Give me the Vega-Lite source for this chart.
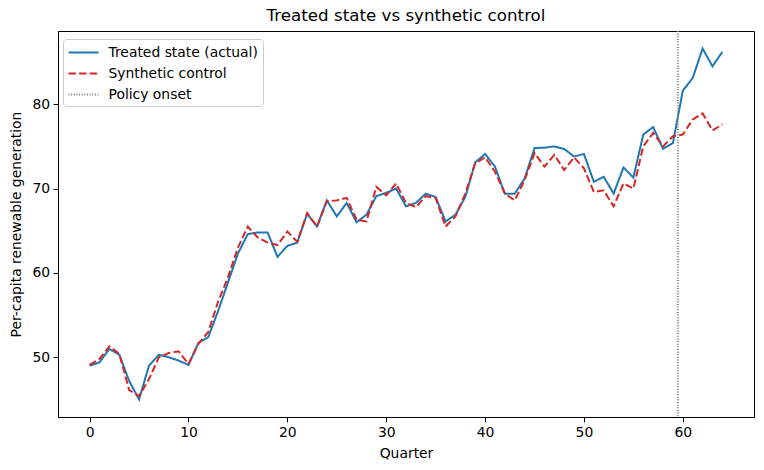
{
  "$schema": "https://vega.github.io/schema/vega-lite/v6.json",
  "width": 696,
  "height": 386,
  "autosize": {"type": "none"},
  "padding": {"left": 58, "top": 31, "right": 10, "bottom": 53},
  "background": "white",
  "title": {"text": "Treated state vs synthetic control", "font": "DejaVu Sans", "fontSize": 16.7, "fontWeight": "normal", "color": "black", "offset": 5},
  "config": {
    "view": {"stroke": "black", "strokeWidth": 1},
    "axis": {"labelFont": "DejaVu Sans", "titleFont": "DejaVu Sans", "labelFontSize": 13.9, "titleFontSize": 13.9, "titleFontWeight": "normal", "labelColor": "black", "titleColor": "black", "domainColor": "black", "tickColor": "black", "tickSize": 4.9, "labelPadding": 3.5, "grid": false},
    "legend": {"labelFont": "DejaVu Sans", "labelFontSize": 13.9, "labelColor": "black", "title": null, "orient": "none", "legendX": 5, "legendY": 8, "symbolType": "M-1,0H2.75", "symbolSize": 256, "symbolStrokeWidth": 2, "labelOffset": 23, "rowPadding": 5, "padding": 4.5, "fillColor": "white", "strokeColor": "#cccccc", "cornerRadius": 3}
  },
  "datasets": {
    "series": [
      {"q": 0, "treated": 49.0, "synthetic": 49.1},
      {"q": 1, "treated": 49.4, "synthetic": 49.8},
      {"q": 2, "treated": 51.0, "synthetic": 51.3},
      {"q": 3, "treated": 50.3, "synthetic": 50.4},
      {"q": 4, "treated": 47.2, "synthetic": 46.1},
      {"q": 5, "treated": 45.0, "synthetic": 45.4},
      {"q": 6, "treated": 49.0, "synthetic": 47.4},
      {"q": 7, "treated": 50.3, "synthetic": 50.0},
      {"q": 8, "treated": 50.0, "synthetic": 50.5},
      {"q": 9, "treated": 49.6, "synthetic": 50.7},
      {"q": 10, "treated": 49.1, "synthetic": 49.2},
      {"q": 11, "treated": 51.7, "synthetic": 51.6},
      {"q": 12, "treated": 52.4, "synthetic": 53.0},
      {"q": 13, "treated": 55.5, "synthetic": 56.6},
      {"q": 14, "treated": 58.9, "synthetic": 59.5},
      {"q": 15, "treated": 62.3, "synthetic": 63.0},
      {"q": 16, "treated": 64.6, "synthetic": 65.5},
      {"q": 17, "treated": 64.8, "synthetic": 64.2},
      {"q": 18, "treated": 64.8, "synthetic": 63.6},
      {"q": 19, "treated": 61.9, "synthetic": 63.3},
      {"q": 20, "treated": 63.2, "synthetic": 64.9},
      {"q": 21, "treated": 63.6, "synthetic": 63.7},
      {"q": 22, "treated": 67.0, "synthetic": 67.1},
      {"q": 23, "treated": 65.5, "synthetic": 65.5},
      {"q": 24, "treated": 68.6, "synthetic": 68.5},
      {"q": 25, "treated": 66.7, "synthetic": 68.6},
      {"q": 26, "treated": 68.3, "synthetic": 68.9},
      {"q": 27, "treated": 66.0, "synthetic": 66.3},
      {"q": 28, "treated": 66.9, "synthetic": 66.1},
      {"q": 29, "treated": 69.1, "synthetic": 70.2},
      {"q": 30, "treated": 69.5, "synthetic": 69.2},
      {"q": 31, "treated": 70.0, "synthetic": 70.6},
      {"q": 32, "treated": 67.9, "synthetic": 68.3},
      {"q": 33, "treated": 68.3, "synthetic": 67.8},
      {"q": 34, "treated": 69.4, "synthetic": 69.1},
      {"q": 35, "treated": 69.0, "synthetic": 68.9},
      {"q": 36, "treated": 66.1, "synthetic": 65.5},
      {"q": 37, "treated": 66.9, "synthetic": 66.7},
      {"q": 38, "treated": 69.0, "synthetic": 69.4},
      {"q": 39, "treated": 73.1, "synthetic": 73.0},
      {"q": 40, "treated": 74.1, "synthetic": 73.7},
      {"q": 41, "treated": 72.6, "synthetic": 72.0},
      {"q": 42, "treated": 69.4, "synthetic": 69.4},
      {"q": 43, "treated": 69.4, "synthetic": 68.6},
      {"q": 44, "treated": 71.2, "synthetic": 71.0},
      {"q": 45, "treated": 74.8, "synthetic": 74.2},
      {"q": 46, "treated": 74.85, "synthetic": 72.6},
      {"q": 47, "treated": 75.0, "synthetic": 74.0},
      {"q": 48, "treated": 74.7, "synthetic": 72.2},
      {"q": 49, "treated": 73.8, "synthetic": 73.7},
      {"q": 50, "treated": 74.1, "synthetic": 72.4},
      {"q": 51, "treated": 70.8, "synthetic": 69.6},
      {"q": 52, "treated": 71.4, "synthetic": 69.8},
      {"q": 53, "treated": 69.4, "synthetic": 67.9},
      {"q": 54, "treated": 72.5, "synthetic": 70.6},
      {"q": 55, "treated": 71.3, "synthetic": 70.0},
      {"q": 56, "treated": 76.4, "synthetic": 75.0},
      {"q": 57, "treated": 77.3, "synthetic": 76.6},
      {"q": 58, "treated": 74.7, "synthetic": 75.0},
      {"q": 59, "treated": 75.4, "synthetic": 76.2},
      {"q": 60, "treated": 81.6, "synthetic": 76.4},
      {"q": 61, "treated": 83.1, "synthetic": 78.2},
      {"q": 62, "treated": 86.6, "synthetic": 78.9},
      {"q": 63, "treated": 84.5, "synthetic": 76.9},
      {"q": 64, "treated": 86.2, "synthetic": 77.6}
    ],
    "onset": [{"q": 59.5, "series": "Policy onset"}]
  },
  "layer": [
    {
      "data": {"name": "series"},
      "transform": [
        {"fold": ["treated", "synthetic"], "as": ["key", "value"]},
        {"lookup": "key", "from": {"data": {"values": [{"key": "treated", "series": "Treated state (actual)"}, {"key": "synthetic", "series": "Synthetic control"}]}, "key": "key", "fields": ["series"]}}
      ],
      "mark": {"type": "line", "strokeCap": "butt", "clip": true},
      "encoding": {
        "x": {"field": "q", "type": "quantitative", "scale": {"domain": [-3.2, 67.2], "nice": false, "zero": false}, "axis": {"values": [0, 10, 20, 30, 40, 50, 60], "title": "Quarter", "titlePadding": 7}},
        "y": {"field": "value", "type": "quantitative", "scale": {"domain": [42.92, 88.68], "nice": false, "zero": false}, "axis": {"values": [50, 60, 70, 80], "title": "Per-capita renewable generation", "titlePadding": 8}},
        "color": {"field": "series", "type": "nominal", "scale": {"domain": ["Treated state (actual)", "Synthetic control", "Policy onset"], "range": ["#1f77b4", "#d62728", "#808080"]}},
        "strokeDash": {"field": "series", "type": "nominal", "scale": {"domain": ["Treated state (actual)", "Synthetic control", "Policy onset"], "range": [[1, 0], [7.4, 3.2], [1, 1.65]]}},
        "strokeWidth": {"field": "series", "type": "nominal", "scale": {"domain": ["Treated state (actual)", "Synthetic control", "Policy onset"], "range": [2, 2, 1]}}
      }
    },
    {
      "data": {"name": "onset"},
      "mark": {"type": "rule"},
      "encoding": {
        "x": {"field": "q", "type": "quantitative"},
        "color": {"field": "series", "type": "nominal"},
        "strokeDash": {"field": "series", "type": "nominal"},
        "strokeWidth": {"field": "series", "type": "nominal"}
      }
    }
  ]
}
